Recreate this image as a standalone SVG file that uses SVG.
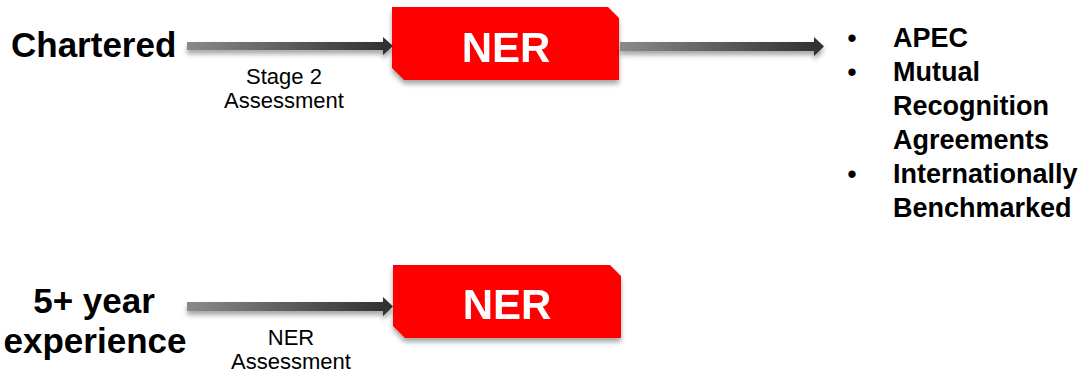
<svg xmlns="http://www.w3.org/2000/svg" width="1089" height="375" viewBox="0 0 1089 375">
<style>
.big{font-family:"Liberation Sans",Arial,sans-serif;font-weight:bold;font-size:35px;fill:#000}
.lbl{font-family:"Liberation Sans",Arial,sans-serif;font-size:22px;fill:#000;text-anchor:middle}
.ner{font-family:"Liberation Sans",Arial,sans-serif;font-weight:bold;font-size:42px;fill:#fff;text-anchor:middle}
.bul{font-family:"Liberation Sans",Arial,sans-serif;font-weight:bold;font-size:27px;fill:#000}
.dot{font-family:"Liberation Sans",Arial,sans-serif;font-size:27px;fill:#000;text-anchor:middle}
.box{fill:#ff0000}
.arr{fill:url(#g)}
</style>
<defs>
<linearGradient id="g" x1="0" y1="0" x2="1" y2="0">
<stop offset="0" stop-color="#8a8a8a"/>
<stop offset="1" stop-color="#2e2e2e"/>
</linearGradient>
<filter id="sh" x="-10%" y="-30%" width="120%" height="180%">
<feDropShadow dx="0" dy="4" stdDeviation="2.5" flood-color="#000" flood-opacity="0.35"/>
</filter>
</defs>
<g id="chartered"><text class="big" x="11" y="57">Chartered</text></g>
<g id="experience">
<text class="big" x="94" y="313" text-anchor="middle">5+ year</text>
<text class="big" x="95" y="353" text-anchor="middle">experience</text>
</g>
<g id="ner1" filter="url(#sh)">
<polygon class="box" points="392,7 608,7 619,18 619,80 404,80 392,68"/>
<text class="ner" x="506" y="62">NER</text>
</g>
<g id="ner2" filter="url(#sh)">
<polygon class="box" points="393,265 610,265 621,276 621,338 405,338 393,326"/>
<text class="ner" x="507" y="319">NER</text>
</g>
<g id="benefits">
<text class="dot" x="852" y="47">•</text>
<text class="bul" x="893" y="47">APEC</text>
<text class="dot" x="852" y="81">•</text>
<text class="bul" x="893" y="81">Mutual</text>
<text class="bul" x="893" y="115">Recognition</text>
<text class="bul" x="893" y="149">Agreements</text>
<text class="dot" x="852" y="183">•</text>
<text class="bul" x="893" y="183">Internationally</text>
<text class="bul" x="893" y="217">Benchmarked</text>
</g>
<g id="connectors" filter="url(#sh)">
<polygon class="arr" points="187,42 383,42 383,37 393,46 383,55 383,50 187,50"/>
<polygon class="arr" points="620,42 814,42 814,37 824,46.5 814,56 814,51 620,51"/>
<polygon class="arr" points="187,302 383,302 383,297 393,306.5 383,316 383,311 187,311"/>
</g>
<g id="connector-labels">
<text class="lbl" x="284" y="84">Stage 2</text>
<text class="lbl" x="284" y="108">Assessment</text>
<text class="lbl" x="291" y="345">NER</text>
<text class="lbl" x="291" y="369">Assessment</text>
</g>
</svg>
